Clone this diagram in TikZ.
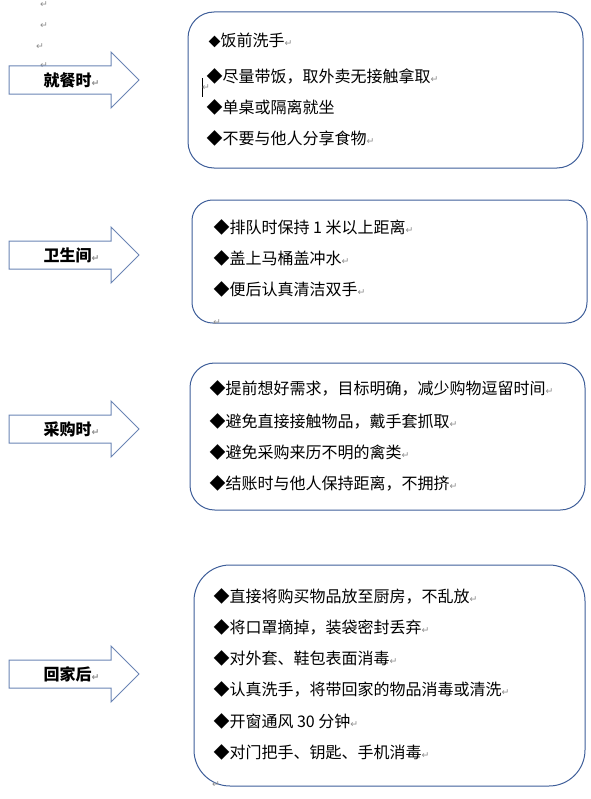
\documentclass[tikz,border=0pt]{standalone}
\usepackage{fontspec}
\setmainfont{Noto Sans CJK SC}
\newfontfamily\markfont{DejaVu Sans}
\definecolor{arrowblue}{HTML}{6A84B4}
\definecolor{boxblue}{HTML}{3E5E99}
\newcommand\retmark{{\markfont\fontsize{7pt}{7pt}\selectfont\color{black!45}↵}}
\begin{document}
\begin{tikzpicture}[x=0.75pt,y=-0.75pt,line width=0.75pt,
  panel/.style={draw=boxblue,rounded corners=#1},
  tiparrow/.style={draw=arrowblue,line join=miter},
  item/.style={anchor=west,inner sep=0pt,font=\fontsize{12pt}{14pt}\selectfont},
  label/.style={anchor=west,inner sep=0pt,font=\fontsize{12pt}{14pt}\selectfont\bfseries},
  pmark/.style={inner sep=0pt}]
 \useasboundingbox (0,0) rectangle (590,799);
 % marks top left
 \node[pmark] (m1) at (44,5) {\retmark};
 \node[pmark] (m2) at (44,26) {\retmark};
 \node[pmark] (m3) at (40,47) {\retmark};
 \node[pmark] (m4) at (44,66) {\retmark};
 % arrows
 \foreach \c/\name/\txt in {80/eat/就餐时,255/wc/卫生间,429/shop/采购时,674/home/回家后}{
   \draw[tiparrow] (9,\c-14) -- (111,\c-14) -- (111,\c-28) -- (139,\c)
     -- (111,\c+28) -- (111,\c+14) -- (9,\c+14) -- cycle;
   \node[label] (\name label) at (43,\c) {\txt\retmark};
 }
 % boxes
 \draw[panel=19.5pt] (188,12) rectangle (583,168);
 \draw[panel=15.5pt] (192,200) rectangle (587,323);
 \draw[panel=18.5pt] (190,363) rectangle (585,510);
 \draw[panel=27pt] (194,565) rectangle (585,786);
 % eating
 \node[item] (eat1) at (208,40) {{\fontsize{9pt}{9pt}\selectfont ◆}饭前洗手\retmark};
 \node[item] (eat2) at (206,76) {◆尽量带饭，取外卖无接触拿取\retmark};
 \node[item] (eat3) at (206,107) {◆单桌或隔离就坐};
 \node[item] (eat4) at (206,138) {◆不要与他人分享食物\retmark};
 \draw[line width=0.6pt] (202,78) -- (202,97);
 \node[pmark] (eatm) at (206,88) {\retmark};
 % toilet
 \node[item] (wc1) at (213,227) {◆排队时保持 1 米以上距离\retmark};
 \node[item] (wc2) at (213,258) {◆盖上马桶盖冲水\retmark};
 \node[item] (wc3) at (213,289) {◆便后认真清洁双手\retmark};
 \node[pmark] (wcm) at (217,323) {\retmark};
 % shopping
 \node[item] (shop1) at (209,388) {◆提前想好需求，目标明确，减少购物逗留时间\retmark};
 \node[item] (shop2) at (209,421) {◆避免直接接触物品，戴手套抓取\retmark};
 \node[item] (shop3) at (209,452) {◆避免采购来历不明的禽类\retmark};
 \node[item] (shop4) at (209,483) {◆结账时与他人保持距离，不拥挤\retmark};
 % home
 \node[item] (home1) at (213,596) {◆直接将购买物品放至厨房，不乱放\retmark};
 \node[item] (home2) at (213,627) {◆将口罩摘掉，装袋密封丢弃\retmark};
 \node[item] (home3) at (213,658) {◆对外套、鞋包表面消毒\retmark};
 \node[item] (home4) at (213,689) {◆认真洗手，将带回家的物品消毒或清洗\retmark};
 \node[item] (home5) at (213,721) {◆开窗通风 30 分钟\retmark};
 \node[item] (home6) at (213,752) {◆对门把手、钥匙、手机消毒\retmark};
 \node[pmark] (homem) at (216,785) {\retmark};
\end{tikzpicture}
\end{document}
